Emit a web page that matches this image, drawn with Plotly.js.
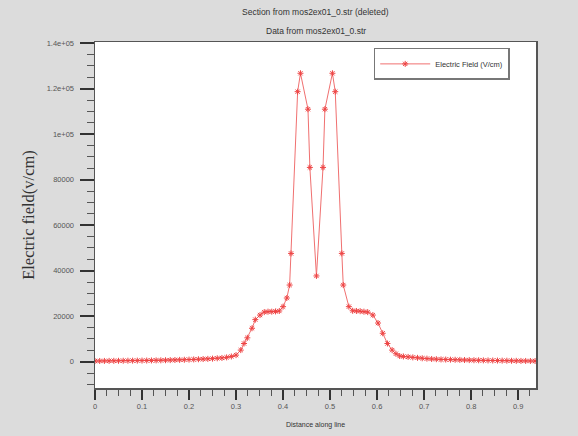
<!DOCTYPE html>
<html><head><meta charset="utf-8">
<script src="https://cdn.plot.ly/plotly-3.0.1.min.js"></script>
<style>html,body{margin:0;padding:0;background:#dcdcdc;}#chart{width:578px;height:436px;}</style>
</head><body><div id="chart"></div>
<script>
const distance = [0.000,0.010,0.020,0.030,0.040,0.050,0.060,0.070,0.080,0.090,0.100,0.110,0.120,0.130,0.140,0.150,0.160,0.170,0.180,0.190,0.200,0.210,0.220,0.230,0.240,0.250,0.260,0.270,0.280,0.290,
  0.300,0.310,0.317,0.324,0.334,0.341,0.351,0.360,0.368,0.376,0.384,0.392,0.400,0.408,0.414,0.417,0.431,0.437,0.453,0.457,0.471,0.485,0.489,0.505,0.511,0.525,0.528,
  0.540,0.548,0.556,0.564,0.572,0.580,0.591,0.602,0.612,0.622,0.632,0.640,0.648,0.656,0.666,0.676,0.686,0.696,0.706,0.716,0.726,0.736,0.746,0.756,0.766,0.776,0.786,0.796,0.806,0.816,0.826,0.836,0.846,0.856,0.866,0.876,0.886,0.896,0.906,0.916,0.926,0.936];
const efield = [300,320,340,360,380,400,420,440,460,480,500,520,550,580,610,650,700,750,800,860,930,1000,1080,1160,1250,1350,1500,1650,1900,2300,
  2900,5100,8000,10500,14700,18500,20500,21800,22000,22000,22100,22300,24200,28000,33700,47600,118700,126800,111000,85400,37700,85400,111000,126800,118700,47600,33700,
  24200,22400,22300,22200,22000,21800,20500,17000,12500,8000,5100,3500,2500,2300,2100,1900,1700,1500,1350,1200,1100,1000,950,900,850,800,750,700,650,620,590,560,530,500,470,440,410,380,350,330,310,300];
const yTickVals = [0,20000,40000,60000,80000,100000,120000,140000];
const yTickText = ["0","20000","40000","60000","80000","1e+05","1.2e+05","1.4e+05"];
const xTickVals = [0,0.1,0.2,0.3,0.4,0.5,0.6,0.7,0.8,0.9];
const xTickText = ["0","0.1","0.2","0.3","0.4","0.5","0.6","0.7","0.8","0.9"];

const trace = {
  x: distance, y: efield, type: 'scatter', mode: 'lines+markers',
  name: 'Electric Field (V/cm)',
  line: {color: '#f07070', width: 1},
  marker: {symbol: 'asterisk-open', size: 5, line: {color: '#ee4444', width: 1}, color: '#ee4444'}
};
const tickFont = {family: 'Liberation Sans, Arial, sans-serif', size: 7.5, color: '#555'};
const layout = {
  width: 578, height: 436,
  paper_bgcolor: '#dcdcdc', plot_bgcolor: '#ffffff',
  margin: {l: 95, r: 42, t: 42, b: 48},
  showlegend: true,
  legend: {x: 0.632, y: 0.983, xanchor: 'left', yanchor: 'top', bgcolor: '#ffffff',
    bordercolor: '#777', borderwidth: 1.5, font: {family: 'Liberation Sans, Arial, sans-serif', size: 7.5, color: '#333'},
    itemwidth: 50},
  xaxis: {range: [0, 0.938], tickmode: 'array', tickvals: xTickVals, ticktext: xTickText,
    ticks: 'outside', ticklen: 10, tickwidth: 1.5, tickcolor: '#333', tickfont: tickFont,
    showgrid: false, zeroline: false, showline: true, mirror: true, linecolor: '#555', linewidth: 1.5,
    minor: {tickmode: 'linear', tick0: 0, dtick: 0.025, ticks: 'outside', ticklen: 6, tickwidth: 1, tickcolor: '#555', showgrid: false},
    title: {text: 'Distance along line', font: {family: 'Liberation Sans, Arial, sans-serif', size: 7, color: '#333'}, standoff: 12}},
  yaxis: {range: [-11560, 140540], tickmode: 'array', tickvals: yTickVals, ticktext: yTickText,
    ticks: 'outside', ticklen: 14, tickwidth: 2, tickcolor: '#333', tickfont: tickFont, ticklabelstandoff: 4,
    showgrid: false, zeroline: false, showline: true, mirror: true, linecolor: '#555', linewidth: 1.5,
    minor: {tickmode: 'linear', tick0: 0, dtick: 5000, ticks: 'outside', ticklen: 7, tickwidth: 1, tickcolor: '#555', showgrid: false},
    title: {text: 'Electric field(v/cm)', font: {family: 'Liberation Serif, Times New Roman, serif', size: 16.5, color: '#333'}, standoff: 8}},
  annotations: [
    {text: 'Section from mos2ex01_0.str (deleted)', xref: 'paper', yref: 'paper', x: 0.5, y: 1, yshift: 30, xanchor: 'center', yanchor: 'middle', showarrow: false,
     font: {family: 'Liberation Sans, Arial, sans-serif', size: 8.5, color: '#333'}},
    {text: 'Data from mos2ex01_0.str', xref: 'paper', yref: 'paper', x: 0.5, y: 1, yshift: 11, xanchor: 'center', yanchor: 'middle', showarrow: false,
     font: {family: 'Liberation Sans, Arial, sans-serif', size: 8.5, color: '#333'}}
  ]
};
Plotly.newPlot('chart', [trace], layout, {displayModeBar: false, staticPlot: true});
</script></body></html>
